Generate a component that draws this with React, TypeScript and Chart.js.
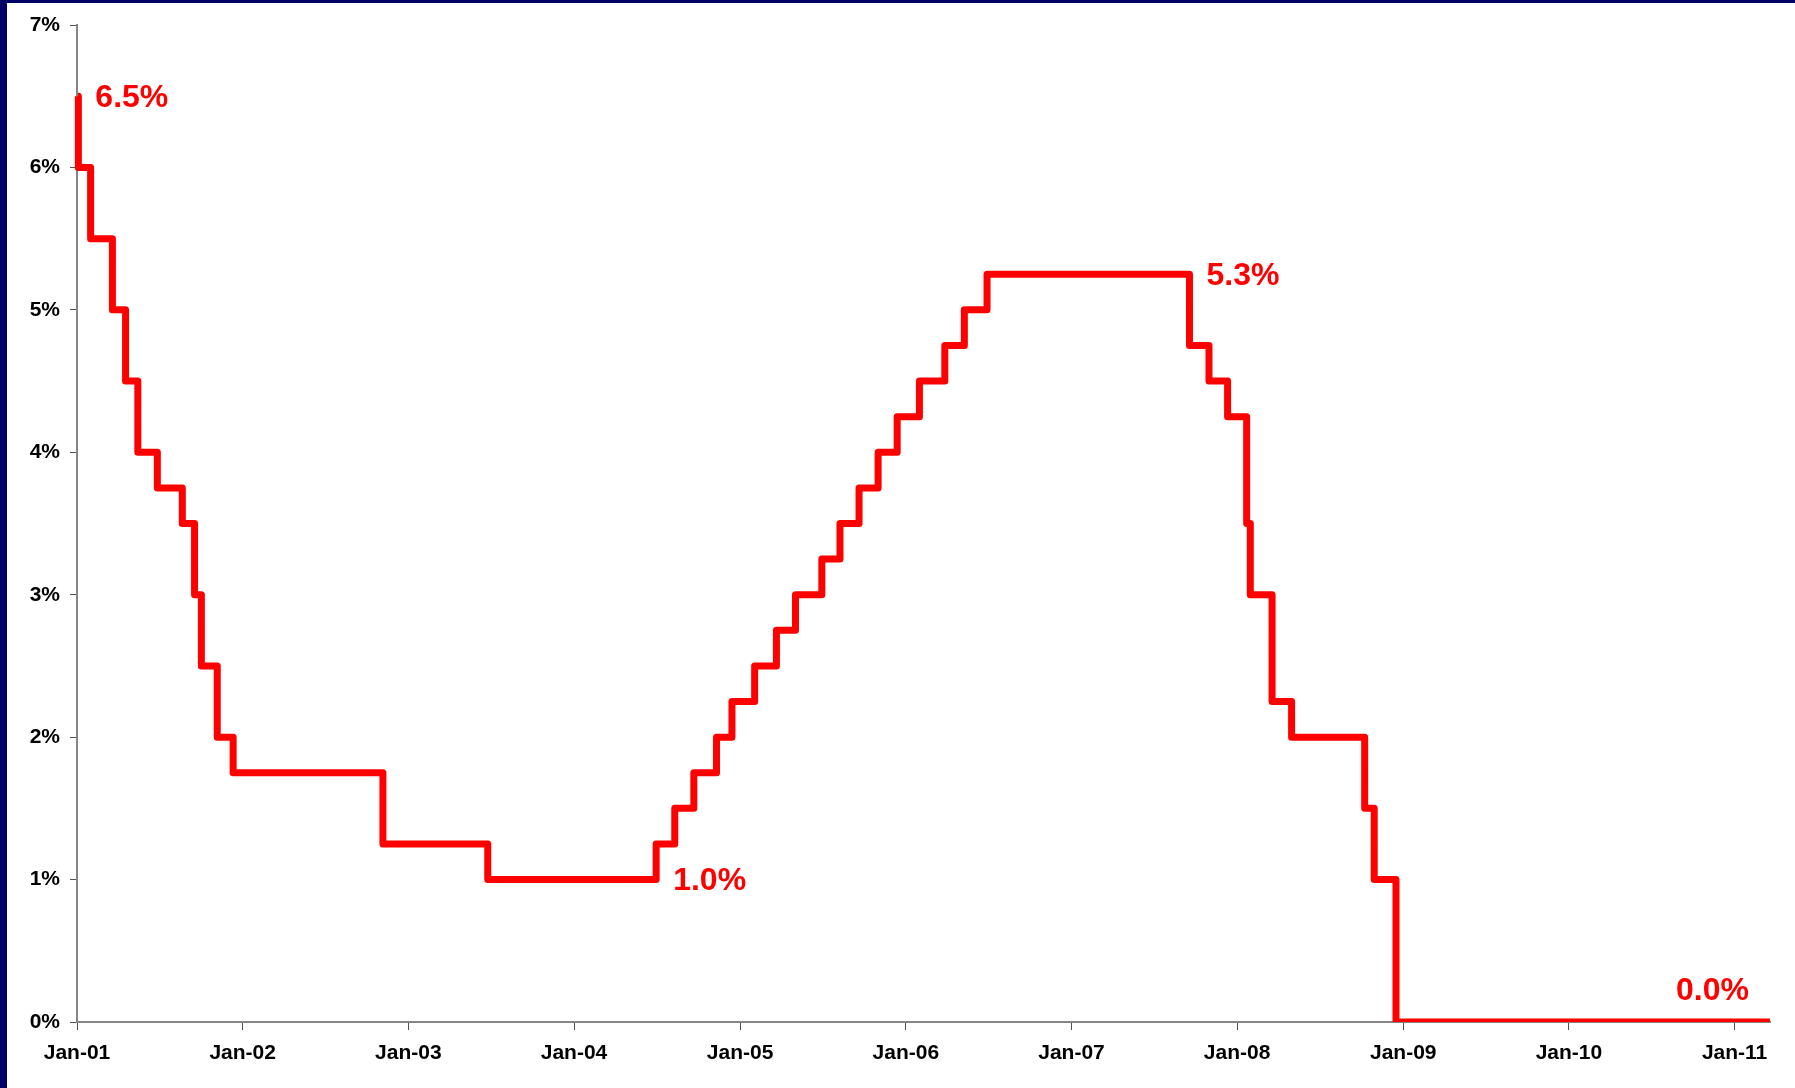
import { useEffect, useRef } from 'react';
import { Chart, registerables } from 'chart.js';

Chart.register(...registerables);

// Federal funds target rate: each entry is the date a new level took effect.
const rateDates = [
  '2001-01-03', '2001-01-04', '2001-01-31', '2001-03-20', '2001-04-18', '2001-05-15',
  '2001-06-27', '2001-08-21', '2001-09-17', '2001-10-02', '2001-11-06', '2001-12-11',
  '2002-11-06', '2003-06-25', '2004-06-30', '2004-08-10', '2004-09-21', '2004-11-10',
  '2004-12-14', '2005-02-02', '2005-03-22', '2005-05-03', '2005-06-30', '2005-08-09',
  '2005-09-20', '2005-11-01', '2005-12-13', '2006-01-31', '2006-03-28', '2006-05-10',
  '2006-06-29', '2007-09-18', '2007-10-31', '2007-12-11', '2008-01-22', '2008-01-30',
  '2008-03-18', '2008-04-30', '2008-10-08', '2008-10-29', '2008-12-16', '2011-03-20',
];
const rates = [
  6.5, 6.0, 5.5, 5.0, 4.5, 4.0,
  3.75, 3.5, 3.0, 2.5, 2.0, 1.75,
  1.25, 1.0, 1.25, 1.5, 1.75, 2.0,
  2.25, 2.5, 2.75, 3.0, 3.25, 3.5,
  3.75, 4.0, 4.25, 4.5, 4.75, 5.0,
  5.25, 4.75, 4.5, 4.25, 3.5, 3.0,
  2.25, 2.0, 1.5, 1.0, 0, 0,
];

// x-axis ticks: first of January each year
const tickDates = [
  '2001-01-01', '2002-01-01', '2003-01-01', '2004-01-01', '2005-01-01', '2006-01-01',
  '2007-01-01', '2008-01-01', '2009-01-01', '2010-01-01', '2011-01-01',
];
const tickLabels = [
  'Jan-01', 'Jan-02', 'Jan-03', 'Jan-04', 'Jan-05', 'Jan-06',
  'Jan-07', 'Jan-08', 'Jan-09', 'Jan-10', 'Jan-11',
];

// levels that get a value callout (index into rates)
const calloutIndex = [0, 13, 30, 40];

const DAY_MS = 86400000;
const ORIGIN = Date.UTC(2001, 0, 1);
const dayNum = (s: string) => {
  const [y, m, d] = s.split('-').map(Number);
  return (Date.UTC(y, m - 1, d) - ORIGIN) / DAY_MS;
};

const FONT_FAMILY = "'Liberation Sans', Arial, Helvetica, sans-serif";
const RED = '#FF0000';
const AXIS_GRAY = '#858585';

const calloutPlugin = {
  id: 'levelCallouts',
  afterDatasetsDraw(chart: any) {
    const meta = chart.getDatasetMeta(0);
    const pts = meta.data;
    const ctx = chart.ctx;
    ctx.save();
    ctx.fillStyle = RED;
    ctx.font = `bold 32px ${FONT_FAMILY}`;
    ctx.textBaseline = 'middle';
    calloutIndex.forEach((i) => {
      const end = pts[i + 1] ?? pts[i];
      const y = pts[i].y;
      const text = `${rates[i].toFixed(1)}%`;
      if (i + 1 === pts.length - 1) {
        // final level: label sits above the line's right end
        ctx.textAlign = 'right';
        ctx.fillText(text, end.x - 21, y - 31);
      } else {
        // label follows the end of the level
        ctx.textAlign = 'left';
        ctx.fillText(text, end.x + 17, y + 2);
      }
    });
    ctx.restore();
  },
};

export default function App() {
  const canvasRef = useRef<HTMLCanvasElement | null>(null);

  useEffect(() => {
    const canvas = canvasRef.current;
    if (!canvas) return;
    const points = rateDates.map((d, i) => ({ x: dayNum(d), y: rates[i] }));
    const tickFont = { family: FONT_FAMILY, size: 21, weight: 'bold' as const };

    const chart = new Chart(canvas, {
      type: 'line',
      data: {
        datasets: [
          {
            data: points,
            borderColor: RED,
            borderWidth: 7,
            borderJoinStyle: 'round',
            stepped: 'before',
            pointRadius: 0,
            fill: false,
            clip: { left: 6, top: 6, right: 6, bottom: 0 },
          },
        ],
      },
      options: {
        responsive: false,
        animation: false,
        events: [],
        layout: { padding: { left: 0, top: 25, right: 25, bottom: 0 } },
        plugins: {
          legend: { display: false },
          tooltip: { enabled: false },
        },
        scales: {
          x: {
            type: 'linear',
            min: 0,
            max: dayNum(rateDates[rateDates.length - 1]),
            afterBuildTicks: (scale: any) => {
              scale.ticks = tickDates.map((d) => ({ value: dayNum(d) }));
            },
            afterFit: (scale: any) => {
              scale.height = 66;
            },
            grid: {
              display: true,
              drawOnChartArea: false,
              drawTicks: true,
              tickLength: 8,
              color: '#505050',
              lineWidth: 1,
            },
            border: { display: true, color: AXIS_GRAY, width: 2 },
            ticks: {
              autoSkip: false,
              maxRotation: 0,
              padding: 11,
              color: '#000',
              font: tickFont,
              callback: (_v: any, i: number) => tickLabels[i],
            },
          },
          y: {
            type: 'linear',
            min: 0,
            max: 7,
            afterFit: (scale: any) => {
              scale.width = 77;
            },
            grid: {
              display: true,
              drawOnChartArea: false,
              drawTicks: true,
              tickLength: 7,
              color: '#505050',
              lineWidth: 1,
            },
            border: { display: true, color: AXIS_GRAY, width: 2 },
            ticks: {
              stepSize: 1,
              padding: 10,
              color: '#000',
              font: tickFont,
              callback: (v: any) => `${v}%`,
            },
          },
        },
      },
      plugins: [calloutPlugin],
    } as any);

    return () => chart.destroy();
  }, []);

  return (
    <div
      style={{
        position: 'fixed',
        left: 0,
        top: 0,
        width: 1795,
        height: 1088,
        background: '#000066',
        overflow: 'hidden',
      }}
    >
      <div
        style={{
          position: 'absolute',
          left: 7,
          top: 3,
          right: 0,
          bottom: 0,
          background: '#FFFFFF',
        }}
      />
      <canvas
        ref={canvasRef}
        width={1795}
        height={1088}
        style={{ position: 'absolute', left: 0, top: 0, width: 1795, height: 1088 }}
      />
    </div>
  );
}
